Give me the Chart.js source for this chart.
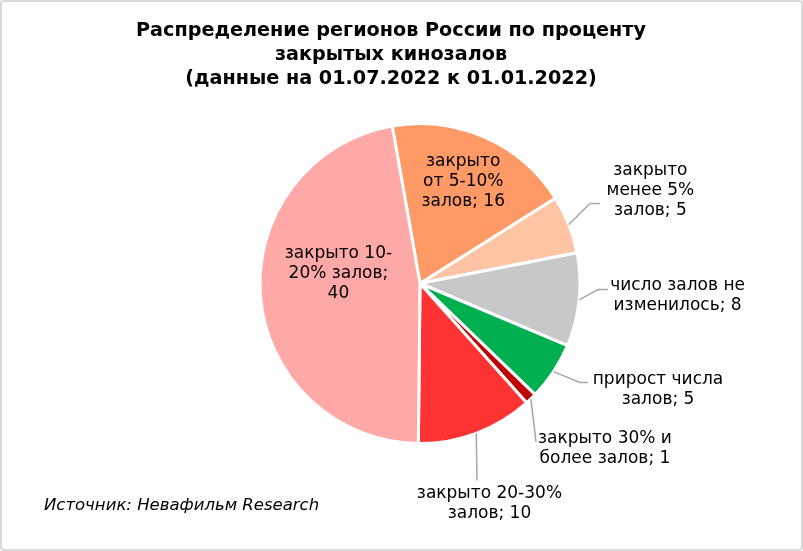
<!DOCTYPE html>
<html>
<head>
<meta charset="utf-8">
<script src="https://cdn.jsdelivr.net/npm/chart.js@4/dist/chart.umd.min.js"></script>
<style>
  html, body { margin: 0; padding: 0; background: #fff; }
  #wrap { position: relative; width: 803px; height: 551px; }
  #c { position: absolute; left: 0; top: 0; }
  #frame { position: absolute; left: 0; top: 0; width: 799px; height: 547px;
           border: 2px solid #D9D9D9; border-radius: 4px; pointer-events: none; }
</style>
</head>
<body>
<div id="wrap">
  <canvas id="c" width="803" height="551"></canvas>
  <div id="frame"></div>
</div>
<script>
// ---- data ----
const titleLines = ['Распределение регионов России по проценту', 'закрытых кинозалов', '(данные на 01.07.2022 к 01.01.2022)'];
const sourceText = 'Источник: Невафильм Research';
const categories = [
  ['закрыто', 'от 5-10%', 'залов'],
  ['закрыто', 'менее 5%', 'залов'],
  ['число залов не', 'изменилось'],
  ['прирост числа', 'залов'],
  ['закрыто 30% и', 'более залов'],
  ['закрыто 20-30%', 'залов'],
  ['закрыто 10-', '20% залов']
];
const values = [16, 5, 8, 5, 1, 10, 40];
const colors = ['#FF9966', '#FFC4A3', '#C8C8C8', '#00B050', '#C00000', '#FF3333', '#FFA8A8'];

// ---- label placement (in units of pie radius, relative to pie centre) ----
const placement = [
  { pos: [0.27, -0.64] },
  { pos: [1.44, -0.58], elbow: [1.0625, -0.5], end: [1.125, -0.5] },
  { pos: [1.61, 0.078], elbow: [1.1125, 0.0375], end: [1.175, 0.0375] },
  { pos: [1.4875, 0.6625], elbow: [1.0, 0.619], end: [1.05, 0.619] },
  { pos: [1.156, 1.031], elbow: [0.725, 0.99], end: [0.725, 0.99] },
  { pos: [0.434, 1.378], elbow: [0.356, 1.231], end: [0.356, 1.231] },
  { pos: [-0.51, -0.06], valueOnNewLine: true }
];

function labelLines(i) {
  const lines = categories[i].slice();
  const last = lines.length - 1;
  if (placement[i].valueOnNewLine) {
    lines[last] += ';';
    lines.push(String(values[i]));
  } else {
    lines[last] += '; ' + values[i];
  }
  return lines;
}

const labelPlugin = {
  id: 'labelPlugin',
  afterDraw(chart) {
    const ctx = chart.ctx;
    const meta = chart.getDatasetMeta(0);
    ctx.save();
    // title
    ctx.fillStyle = '#000';
    ctx.textAlign = 'center';
    ctx.textBaseline = 'middle';
    ctx.font = 'bold 19.2px "DejaVu Sans", Verdana, sans-serif';
    titleLines.forEach((t, k) => ctx.fillText(t, 391, 31 + k * 24));

    // slice labels
    ctx.font = '17px "DejaVu Sans", Verdana, sans-serif';
    const lh = 20;
    meta.data.forEach((arc, i) => {
      const p = arc.getProps(['x', 'y', 'startAngle', 'endAngle', 'outerRadius'], true);
      const R = p.outerRadius;
      const pl = placement[i];
      if (pl.elbow) {
        const mid = (p.startAngle + p.endAngle) / 2;
        const sx = p.x + Math.cos(mid) * R;
        const sy = p.y + Math.sin(mid) * R;
        ctx.strokeStyle = '#A6A6A6';
        ctx.lineWidth = 1.5;
        ctx.beginPath();
        ctx.moveTo(sx, sy);
        ctx.lineTo(p.x + pl.elbow[0] * R, p.y + pl.elbow[1] * R);
        ctx.lineTo(p.x + pl.end[0] * R, p.y + pl.end[1] * R);
        ctx.stroke();
      }
      const lines = labelLines(i);
      const cx = p.x + pl.pos[0] * R;
      const cy = p.y + pl.pos[1] * R;
      ctx.fillStyle = '#000';
      lines.forEach((t, k) => {
        ctx.fillText(t, cx, cy + (k - (lines.length - 1) / 2) * lh);
      });
    });

    // source
    ctx.textAlign = 'left';
    ctx.font = 'italic 16.5px "DejaVu Sans", Verdana, sans-serif';
    ctx.fillText(sourceText, 44, 506);
    ctx.restore();
  }
};

new Chart(document.getElementById('c'), {
  type: 'pie',
  data: {
    labels: categories,
    datasets: [{
      data: values,
      backgroundColor: colors,
      borderColor: '#FFFFFF',
      borderWidth: 3
    }]
  },
  options: {
    responsive: false,
    animation: false,
    events: [],
    rotation: -10,
    layout: { padding: { top: 122, bottom: 106, left: 37, right: 0 } },
    plugins: {
      legend: { display: false },
      tooltip: { enabled: false },
      title: { display: false }
    }
  },
  plugins: [labelPlugin]
});
</script>
</body>
</html>
